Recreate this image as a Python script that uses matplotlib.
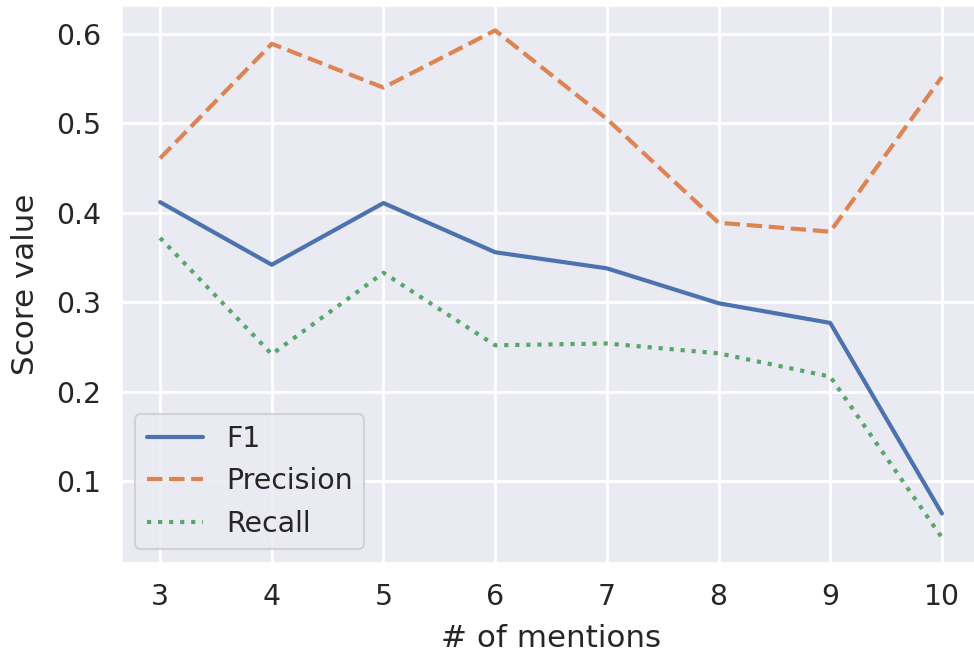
import matplotlib
matplotlib.use("Agg")
import matplotlib.pyplot as plt
import seaborn as sns

mentions = [3, 4, 5, 6, 7, 8, 9, 10]
f1 = [0.412, 0.342, 0.411, 0.356, 0.338, 0.299, 0.277, 0.064]
precision = [0.461, 0.589, 0.540, 0.604, 0.505, 0.389, 0.379, 0.552]
recall = [0.372, 0.242, 0.333, 0.252, 0.254, 0.243, 0.217, 0.037]

sns.set_theme(style="darkgrid", context="notebook")
plt.rcParams['font.family'] = ['DejaVu Sans']
plt.rcParams['xtick.labelsize'] = 13.6
plt.rcParams['ytick.labelsize'] = 13.6
plt.rcParams['axes.labelsize'] = 14.9
plt.rcParams['legend.fontsize'] = 13.6
plt.rcParams['lines.linewidth'] = 2.0
plt.rcParams['grid.linewidth'] = 1.35

fig = plt.figure(figsize=(974/150, 659/150), dpi=150)
ax = fig.add_axes([121/974, 1 - 563/659, (981 - 121)/974, (563 - 5)/659])
pal = sns.color_palette()
ax.plot(mentions, f1, color=pal[0], linestyle='-', label='F1')
ax.plot(mentions, precision, color=pal[1], linestyle='--', label='Precision')
ax.plot(mentions, recall, color=pal[2], linestyle=':', label='Recall')
ax.set_xticks(mentions)
ax.set_xlabel('# of mentions', labelpad=6.5)
ax.set_ylabel('Score value', labelpad=7.5)
ax.legend(loc='lower left')
fig.savefig('out.png', dpi=150)
